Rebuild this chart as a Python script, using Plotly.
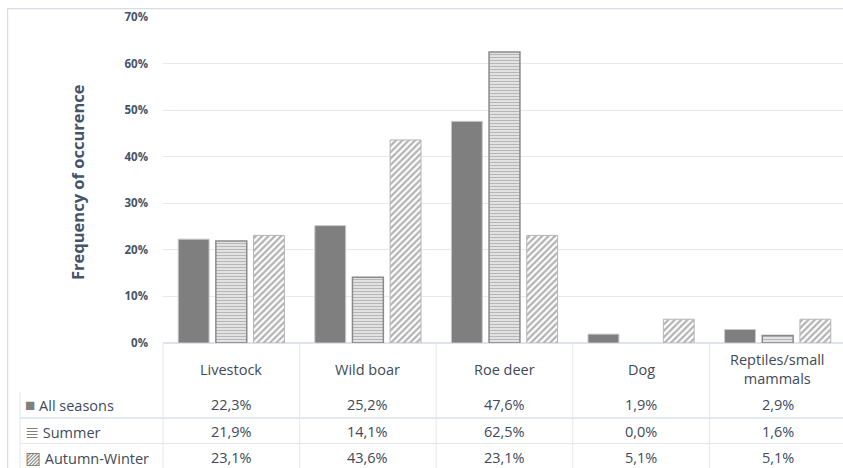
import plotly.graph_objects as go

categories = ["Livestock", "Wild boar", "Roe deer", "Dog", "Reptiles/small mammals"]
header_labels = ["Livestock", "Wild boar", "Roe deer", "Dog", "Reptiles/small<br>mammals"]
series_names = ["All seasons", "Summer", "Autumn-Winter"]
all_seasons = [22.3, 25.2, 47.6, 1.9, 2.9]
summer = [21.9, 14.1, 62.5, 0.0, 1.6]
autumn_winter = [23.1, 43.6, 23.1, 5.1, 5.1]
y_ticks = [0, 10, 20, 30, 40, 50, 60, 70]

# the figure is a little wider than the 843px window; the overflow is clipped
W, H = 846, 468
L, R, T, B = 163, 846, 17, 343
TXT = "#404a5a"
AX = "#44546a"
LINE = "#e3e6ec"
FONT = "Open Sans"


def px(x):
    return (x - L) / (R - L)


def py(y):
    return (B - y) / (B - T)


def lw(vals, w):
    return [w if v > 0 else 0 for v in vals]


fig = go.Figure()
fig.add_trace(go.Bar(
    name=series_names[0], x=categories, y=[v / 100 for v in all_seasons],
    marker=dict(color="#7f7f7f", line=dict(color="#c8c8c8", width=lw(all_seasons, 1))),
))
fig.add_trace(go.Bar(
    name=series_names[1], x=categories, y=[v / 100 for v in summer],
    marker=dict(color="white", line=dict(color="#8a8a8a", width=lw(summer, 1.5)),
                pattern=dict(shape="-", fgcolor="#6e6e6e", bgcolor="white",
                             size=3, solidity=0.6)),
))
fig.add_trace(go.Bar(
    name=series_names[2], x=categories, y=[v / 100 for v in autumn_winter],
    marker=dict(color="white", line=dict(color="#b5b5b5", width=lw(autumn_winter, 1)),
                pattern=dict(shape="/", fgcolor="#666666", bgcolor="white",
                             size=4.5, solidity=0.5)),
))

annotations = []
annotations.append(dict(
    x=px(77), y=py(182), xref="paper", yref="paper", text="<b>Frequency of occurence</b>",
    textangle=-90, showarrow=False, font=dict(family=FONT, size=16.5, color=AX),
    xanchor="center", yanchor="middle"))

for i, lab in enumerate(header_labels):
    annotations.append(dict(
        x=categories[i], y=py(369), xref="x", yref="paper", text=lab, showarrow=False,
        font=dict(family=FONT, size=14.5, color=TXT), xanchor="center", yanchor="middle"))

symbols = ["■", "≣", "▨"]
row_y = [404, 431, 457]
for s, (name, vals) in enumerate(zip(series_names, [all_seasons, summer, autumn_winter])):
    annotations.append(dict(
        x=px(23), y=py(row_y[s]), xref="paper", yref="paper",
        text=f"<span style='color:#7f7f7f;font-size:17px'>{symbols[s]}</span> {name}", showarrow=False,
        font=dict(family=FONT, size=14.5, color=TXT), xanchor="left", yanchor="middle"))
    for i, v in enumerate(vals):
        annotations.append(dict(
            x=categories[i], y=py(row_y[s]), xref="x", yref="paper",
            text=f"{v:.1f}%".replace(".", ","), showarrow=False,
            font=dict(family=FONT, size=14.5, color=TXT), xanchor="center", yanchor="middle"))

shapes = []
shapes.append(dict(type="line", xref="paper", yref="paper", x0=px(7), x1=px(850), y0=py(8.6), y1=py(8.6),
                   line=dict(color="#d9dce2", width=1.2)))
shapes.append(dict(type="line", xref="paper", yref="paper", x0=px(7.6), x1=px(7.6), y0=py(8), y1=py(470),
                   line=dict(color="#d9dce2", width=1.2)))
for k in range(len(categories)):
    xv = k / len(categories)
    shapes.append(dict(type="line", xref="paper", yref="paper", x0=xv, x1=xv, y0=py(343), y1=py(470),
                       line=dict(color=LINE, width=1)))
shapes.append(dict(type="line", xref="paper", yref="paper", x0=px(20), x1=px(20), y0=py(392), y1=py(470),
                   line=dict(color=LINE, width=1)))
shapes.append(dict(type="line", xref="paper", yref="paper", x0=px(20), x1=px(850), y0=py(418), y1=py(418),
                   line=dict(color="#dde2ea", width=1.5)))
shapes.append(dict(type="line", xref="paper", yref="paper", x0=px(20), x1=px(850), y0=py(443.5), y1=py(443.5),
                   line=dict(color=LINE, width=1)))

fig.update_layout(
    width=W, height=H,
    margin=dict(l=L, r=W - R, t=T, b=H - B, pad=0),
    paper_bgcolor="white", plot_bgcolor="white",
    barmode="group", bargap=0.173, bargroupgap=0.18,
    showlegend=False,
    annotations=annotations, shapes=shapes,
    xaxis=dict(showticklabels=False, ticks="", showgrid=False, zeroline=False,
               showline=False, fixedrange=True),
    yaxis=dict(range=[0, 0.70], tickvals=[t / 100 for t in y_ticks],
               ticktext=[f"<b>{t}%</b>" for t in y_ticks],
               showgrid=True, gridcolor="#e6e9ef", gridwidth=1,
               zeroline=True, zerolinecolor="#e0e4ea", zerolinewidth=1.5,
               showline=False, ticks="", ticklabelstandoff=14,
               tickfont=dict(family=FONT, size=11.5, color=AX)),
)

fig.write_html(
    "out.html",
    config={"displayModeBar": False},
    post_script="document.body.style.margin='0px';document.body.style.overflow='hidden';",
)
